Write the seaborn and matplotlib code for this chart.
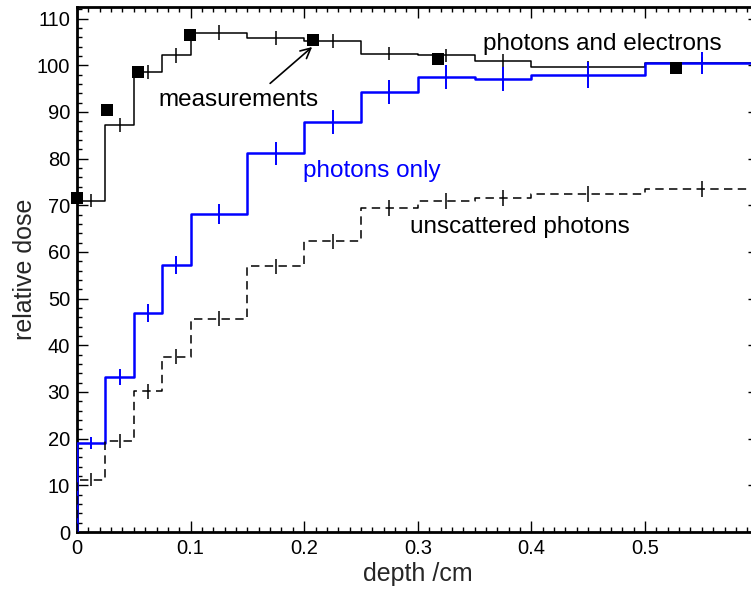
import matplotlib
matplotlib.use("Agg")
import matplotlib.pyplot as plt
from matplotlib.ticker import MultipleLocator
import seaborn as sns
import pandas as pd

# ---- data -------------------------------------------------------------
bin_edges = [0.0, 0.025, 0.05, 0.075, 0.1, 0.15, 0.2, 0.25, 0.3, 0.35, 0.4, 0.5, 0.6]
bin_centers = [0.0125, 0.0375, 0.0625, 0.0875, 0.125, 0.175, 0.225, 0.275, 0.325, 0.375, 0.45, 0.55]

photons_electrons = [71.0, 87.2, 98.6, 102.1, 107.0, 105.9, 105.2, 102.5, 102.1, 100.9, 99.6, 100.4]
photons_electrons_err = [1.4, 1.5, 1.5, 1.6, 1.6, 1.5, 1.5, 1.4, 1.4, 1.4, 1.3, 1.4]

photons_only = [19.0, 33.2, 46.9, 57.2, 68.1, 81.1, 87.8, 94.2, 97.4, 97.0, 97.9, 100.5]
photons_only_err = [1.3, 1.8, 2.0, 2.0, 2.2, 2.5, 2.5, 2.6, 2.6, 2.6, 2.7, 2.4]

unscattered = [11.2, 19.4, 30.1, 37.5, 45.7, 56.9, 62.3, 69.4, 70.9, 71.6, 72.4, 73.4]
unscattered_err = [1.4, 1.5, 1.6, 1.6, 1.6, 1.6, 1.6, 1.7, 1.7, 1.7, 1.7, 1.7]

meas_depth = [0.0, 0.026, 0.054, 0.0995, 0.208, 0.318, 0.527]
meas_dose = [71.6, 90.4, 98.6, 106.4, 105.5, 101.4, 99.4]

x_ticks = [0, 0.1, 0.2, 0.3, 0.4, 0.5]
x_tick_labels = ["0", "0.1", "0.2", "0.3", "0.4", "0.5"]
y_ticks = [0, 10, 20, 30, 40, 50, 60, 70, 80, 90, 100, 110]

# ---- style ------------------------------------------------------------
sns.set_style("ticks")
plt.rcParams["font.family"] = ["Liberation Sans", "DejaVu Sans"]

fig = plt.figure(figsize=(7.51, 5.93), dpi=100)
ax = fig.add_axes([77 / 751, 61 / 593, 681.6 / 751, 524.7 / 593])


def step_frame(values, start_zero=False):
    xs = list(bin_edges)
    ys = list(values) + [values[-1]]
    if start_zero:
        xs = [0.0] + xs
        ys = [0.0] + ys
    return pd.DataFrame({"x": xs, "y": ys})


black = "black"
blue = "#0000ff"

# photons and electrons
sns.lineplot(data=step_frame(photons_electrons, True), x="x", y="y", ax=ax,
             drawstyle="steps-post", estimator=None, sort=False,
             color=black, linewidth=1.1, zorder=3)
ax.errorbar(bin_centers, photons_electrons, yerr=photons_electrons_err,
            fmt="none", ecolor=black, elinewidth=1.1, capsize=0, zorder=3)

# photons only
sns.lineplot(data=step_frame(photons_only, True), x="x", y="y", ax=ax,
             drawstyle="steps-post", estimator=None, sort=False,
             color=blue, linewidth=1.8, zorder=3)
ax.errorbar(bin_centers, photons_only, yerr=photons_only_err,
            fmt="none", ecolor=blue, elinewidth=1.4, capsize=0, zorder=3)

# unscattered photons
sns.lineplot(data=step_frame(unscattered, True), x="x", y="y", ax=ax,
             drawstyle="steps-post", estimator=None, sort=False,
             color=black, linewidth=1.1, dashes=False, zorder=3,
             linestyle=(0, (5.5, 3.5)))
ax.errorbar(bin_centers, unscattered, yerr=unscattered_err,
            fmt="none", ecolor=black, elinewidth=1.1, capsize=0, zorder=3)

# measurements
sns.scatterplot(x=meas_depth, y=meas_dose, ax=ax, marker="s", s=64,
                color="black", edgecolor="black", linewidth=0, zorder=5,
                clip_on=False)

# annotations
ax.text(0.3574, 103.2, "photons and electrons", fontsize=17.5, ha="left",
        va="baseline", color="black")
ax.text(0.199, 76.1, "photons only", fontsize=17.5, ha="left",
        va="baseline", color=blue)
ax.text(0.293, 64.0, "unscattered photons", fontsize=17.5, ha="left",
        va="baseline", color="black")
ax.text(0.0713, 91.2, "measurements", fontsize=17.5, ha="left",
        va="baseline", color="black")
ax.annotate("", xy=(0.207, 103.9), xytext=(0.170, 96.1),
            arrowprops=dict(arrowstyle="->", color="black", lw=1.2,
                            mutation_scale=18, shrinkA=0, shrinkB=0))

# axes
ax.set_xlim(0, 0.6)
ax.set_ylim(0, 112.4)
ax.set_xticks(x_ticks)
ax.set_xticklabels(x_tick_labels)
ax.set_yticks(y_ticks)
ax.xaxis.set_minor_locator(MultipleLocator(0.01))
ax.yaxis.set_minor_locator(MultipleLocator(2))
ax.tick_params(which="both", direction="in", top=True, right=True,
               labelsize=14.5, width=1.0, color="black", labelcolor="black")
ax.tick_params(which="major", length=7.7, pad=5)
ax.tick_params(which="minor", length=3.6)
for sp in ax.spines.values():
    sp.set_linewidth(2.0)
    sp.set_color("black")
    sp.set_visible(True)

ax.set_xlabel("depth /cm", fontsize=18, labelpad=3)
ax.set_ylabel("relative dose", fontsize=18, labelpad=0)
ax.grid(False)

fig.savefig("out.png", dpi=100)
